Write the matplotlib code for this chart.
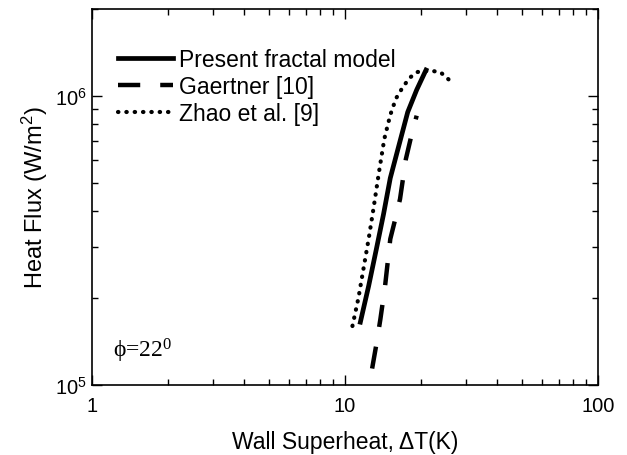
import matplotlib
matplotlib.use("Agg")
import matplotlib.pyplot as plt
from matplotlib.ticker import LogLocator, NullFormatter, FixedLocator, FixedFormatter

plt.rcParams["font.family"] = ["Liberation Sans", "DejaVu Sans"]
plt.rcParams["mathtext.default"] = "regular"

# data
present_dt = [11.5, 12.4, 13.3, 14.2, 15.1, 16.3, 17.7, 19.2, 20.9]
present_q = [1.65e5, 2.2e5, 2.95e5, 3.9e5, 5.2e5, 6.7e5, 8.8e5, 1.05e6, 1.23e6]

gaertner_dt = [12.8, 13.3, 13.8, 14.4, 15.1, 15.8, 16.5, 17.4, 18.3, 19.2]
gaertner_q = [1.14e5, 1.38e5, 1.69e5, 2.2e5, 3.2e5, 3.75e5, 4.4e5, 6.05e5, 7.3e5, 8.55e5]

zhao_dt = [10.7, 11.3, 11.9, 12.4, 13.0, 13.6, 14.3, 15.1, 15.9, 17.0, 18.1, 19.3, 20.5, 22.2, 23.8, 26.0]
zhao_q = [1.6e5, 2.0e5, 2.6e5, 3.2e5, 4.15e5, 5.4e5, 7.1e5, 8.6e5, 9.8e5, 1.08e6, 1.16e6, 1.21e6, 1.22e6, 1.22e6, 1.21e6, 1.13e6]

fig = plt.figure(figsize=(6.27, 4.56), dpi=100)
ax = fig.add_axes([92 / 627, 1 - 386 / 456, (598 - 92) / 627, (386 - 10) / 456])

ax.plot(present_dt, present_q, color="black", lw=3.4, ls="-", label="Present fractal model")
ax.plot(gaertner_dt, gaertner_q, color="black", lw=3.2, ls=(0, (5, 4.5)), label="Gaertner [10]")
ax.plot(zhao_dt, zhao_q, color="black", lw=3.0, ls=(0, (0.1, 1.9)), dash_capstyle="round",
        label="Zhao et al. [9]")

ax.set_xscale("log")
ax.set_yscale("log")
ax.set_xlim(1, 100)
ax.set_ylim(1e5, 2e6)

ax.xaxis.set_major_locator(FixedLocator([1, 10, 100]))
ax.xaxis.set_major_formatter(FixedFormatter(["1", "10", "100"]))
ax.xaxis.set_minor_locator(LogLocator(base=10, subs=range(2, 10)))
ax.xaxis.set_minor_formatter(NullFormatter())
ax.yaxis.set_major_locator(FixedLocator([1e5, 1e6]))
ax.yaxis.set_major_formatter(FixedFormatter(["10$^{5}$", "10$^{6}$"]))
ax.yaxis.set_minor_locator(LogLocator(base=10, subs=range(2, 10)))
ax.yaxis.set_minor_formatter(NullFormatter())

ax.tick_params(which="both", direction="in", top=True, right=True, labelsize=14.5, width=1)
ax.tick_params(axis="x", which="both", pad=8)
ax.tick_params(axis="y", which="both", pad=4)
ax.tick_params(which="major", length=7)
ax.tick_params(which="minor", length=4)
for sp in ax.spines.values():
    sp.set_linewidth(1.2)

ax.set_xlabel("Wall Superheat, \u0394T(K)", fontsize=16.5, labelpad=11)
ax.set_ylabel("Heat Flux (W/m$^{2}$)", fontsize=17, labelpad=3)

ax.text(0.042, 0.077, "\u03d5=22$^{0}$", transform=ax.transAxes, fontsize=17,
        va="baseline", family=["Liberation Serif", "DejaVu Serif"])

ax.legend(loc="upper left", bbox_to_anchor=(0.0514, 0.895), frameon=False, fontsize=16.5,
          handlelength=2.4, handletextpad=0.26, labelspacing=0.16,
          borderaxespad=0, borderpad=0)

fig.savefig("out.png", dpi=100)
